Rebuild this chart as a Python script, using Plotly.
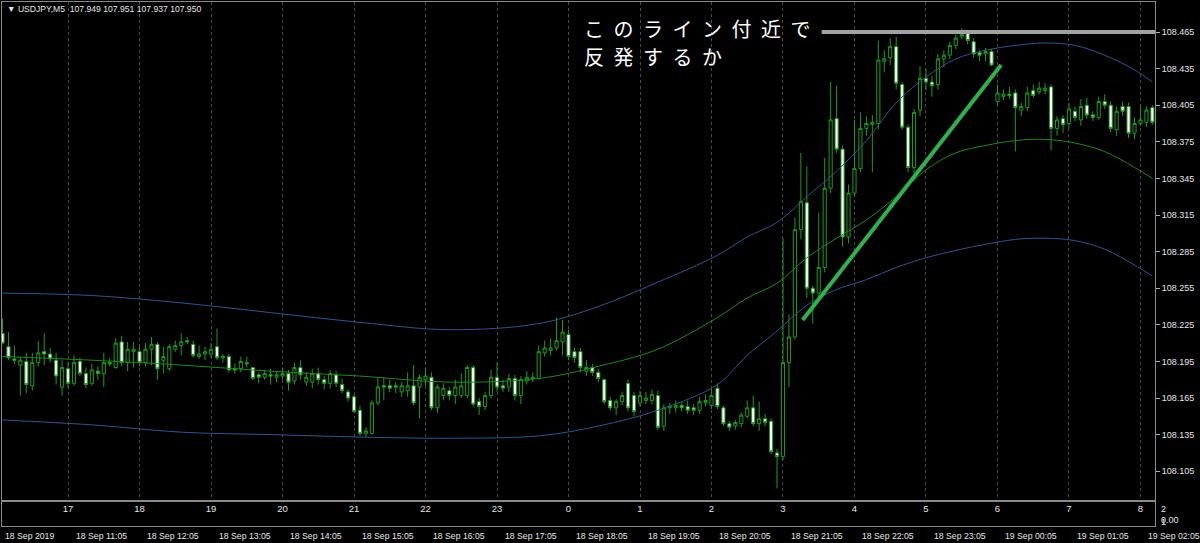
import plotly.graph_objects as go

# ---------------- data ----------------
opens = [108.218,108.207,108.197,108.192,108.195,108.175,108.194,108.203,108.201,108.196,
         108.174,108.189,108.177,108.195,108.185,108.177,108.187,108.185,108.194,108.190,
         108.211,108.194,108.203,108.203,108.194,108.205,108.209,108.196,108.189,108.205,
         108.208,108.212,108.209,108.199,108.201,108.201,108.207,108.198,108.199,108.189,
         108.189,108.194,108.190,108.184,108.182,108.184,108.182,108.183,108.185,108.179,
         108.190,108.178,108.178,108.185,108.180,108.177,108.184,108.176,108.170,108.166,
         108.155,108.136,108.136,108.161,108.175,108.175,108.175,108.170,108.171,108.175,
         108.174,108.180,108.182,108.157,108.167,108.171,108.167,108.167,108.167,108.190,
         108.162,108.158,108.167,108.182,108.175,108.174,108.181,108.167,108.179,108.181,
         108.181,108.202,108.204,108.206,108.211,108.217,108.203,108.203,108.187,108.190,
         108.186,108.180,108.163,108.157,108.162,108.177,108.167,108.161,108.163,108.163,
         108.167,108.142,108.157,108.157,108.159,108.158,108.157,108.155,108.161,108.159,
         108.173,108.157,108.144,108.142,108.144,108.150,108.157,108.144,108.148,108.146,
         108.120,108.117,108.194,108.215,108.303,108.325,108.255,108.251,108.272,108.337,
         108.394,108.369,108.297,108.333,108.353,108.386,108.389,108.390,108.441,108.444,
         108.453,108.422,108.387,108.354,108.401,108.427,108.424,108.422,108.443,108.446,
         108.454,108.461,108.464,108.457,108.448,108.447,108.449,108.408,108.412,108.414,
         108.415,108.401,108.403,108.417,108.416,108.417,108.420,108.386,108.394,108.390,
         108.400,108.393,108.405,108.397,108.395,108.408,108.405,108.385,108.404,108.404,
         108.382,108.390,108.391,108.403]
highs = [108.230,108.219,108.208,108.199,108.202,108.202,108.212,108.218,108.206,108.202,
         108.196,108.194,108.200,108.198,108.190,108.193,108.191,108.202,108.198,108.214,
         108.216,108.211,108.211,108.208,108.210,108.215,108.211,108.207,108.209,108.212,
         108.218,108.215,108.212,108.208,108.207,108.210,108.222,108.201,108.201,108.193,
         108.199,108.199,108.190,108.186,108.188,108.189,108.187,108.190,108.188,108.194,
         108.196,108.186,108.189,108.190,108.183,108.188,108.187,108.181,108.172,108.168,
         108.159,108.141,108.163,108.182,108.182,108.180,108.178,108.178,108.186,108.192,
         108.184,108.190,108.186,108.176,108.177,108.174,108.180,108.185,108.192,108.192,
         108.165,108.170,108.188,108.194,108.180,108.185,108.184,108.183,108.187,108.186,
         108.208,108.212,108.214,108.231,108.229,108.221,108.206,108.206,108.196,108.193,
         108.189,108.181,108.166,108.164,108.170,108.180,108.170,108.171,108.170,108.172,
         108.171,108.160,108.161,108.163,108.162,108.163,108.160,108.166,108.168,108.173,
         108.177,108.159,108.146,108.147,108.153,108.163,108.167,108.162,108.152,108.148,
         108.123,108.296,108.233,108.313,108.366,108.355,108.257,108.317,108.362,108.424,
         108.421,108.372,108.340,108.393,108.399,108.396,108.397,108.458,108.450,108.460,
         108.461,108.424,108.389,108.402,108.437,108.435,108.429,108.447,108.450,108.457,
         108.463,108.468,108.467,108.460,108.450,108.452,108.451,108.422,108.418,108.420,
         108.418,108.407,108.420,108.422,108.424,108.423,108.422,108.396,108.397,108.407,
         108.404,108.410,108.411,108.400,108.412,108.414,108.408,108.404,108.408,108.407,
         108.395,108.405,108.404,108.405]
lows = [108.209,108.196,108.193,108.167,108.169,108.171,108.191,108.192,108.194,108.176,
        108.167,108.173,108.175,108.183,108.173,108.175,108.180,108.174,108.191,108.189,
        108.191,108.187,108.190,108.191,108.191,108.192,108.180,108.185,108.187,108.203,
        108.200,108.209,108.198,108.197,108.196,108.198,108.196,108.194,108.186,108.185,
        108.186,108.190,108.180,108.177,108.180,108.176,108.178,108.180,108.171,108.176,
        108.180,108.175,108.173,108.176,108.172,108.173,108.174,108.169,108.162,108.153,
        108.134,108.133,108.135,108.159,108.163,108.170,108.169,108.166,108.166,108.159,
        108.148,108.175,108.155,108.153,108.163,108.163,108.160,108.165,108.165,108.158,
        108.151,108.155,108.165,108.170,108.170,108.170,108.163,108.160,108.176,108.178,
        108.180,108.199,108.200,108.204,108.200,108.196,108.194,108.186,108.183,108.183,
        108.178,108.160,108.155,108.151,108.159,108.154,108.150,108.158,108.160,108.160,
        108.139,108.138,108.152,108.153,108.154,108.152,108.151,108.152,108.158,108.156,
        108.156,108.142,108.138,108.139,108.141,108.148,108.142,108.138,108.142,108.119,
        108.091,108.114,108.174,108.213,108.295,108.247,108.226,108.247,108.268,108.333,
        108.366,108.289,108.292,108.330,108.350,108.380,108.350,108.385,108.432,108.438,
        108.418,108.385,108.350,108.349,108.396,108.417,108.412,108.418,108.436,108.443,
        108.451,108.459,108.455,108.444,108.441,108.441,108.437,108.405,108.409,108.410,
        108.367,108.396,108.400,108.411,108.414,108.414,108.368,108.380,108.382,108.386,
        108.392,108.388,108.394,108.392,108.393,108.402,108.383,108.380,108.396,108.378,
        108.377,108.388,108.387,108.389]
closes = [108.210,108.198,108.196,108.196,108.176,108.194,108.202,108.201,108.197,108.183,
          108.190,108.177,108.194,108.185,108.176,108.188,108.185,108.194,108.193,108.210,
          108.194,108.205,108.205,108.194,108.205,108.209,108.189,108.199,108.207,108.208,
          108.211,108.211,108.200,108.201,108.203,108.205,108.198,108.199,108.188,108.188,
          108.195,108.193,108.181,108.182,108.185,108.183,108.184,108.185,108.178,108.190,
          108.184,108.182,108.185,108.180,108.177,108.185,108.177,108.171,108.165,108.154,
          108.136,108.138,108.161,108.174,108.174,108.173,108.174,108.175,108.175,108.161,
          108.182,108.183,108.157,108.174,108.173,108.167,108.174,108.175,108.190,108.160,
          108.158,108.167,108.182,108.174,108.173,108.181,108.167,108.180,108.182,108.182,
          108.203,108.206,108.206,108.212,108.219,108.199,108.198,108.190,108.190,108.186,
          108.181,108.162,108.157,108.162,108.167,108.157,108.154,108.167,108.165,108.168,
          108.141,108.157,108.158,108.159,108.157,108.155,108.155,108.162,108.163,108.167,
          108.158,108.144,108.141,108.145,108.151,108.157,108.144,108.148,108.145,108.121,
          108.117,108.194,108.215,108.303,108.326,108.255,108.251,108.272,108.337,108.393,
          108.369,108.297,108.333,108.353,108.386,108.390,108.391,108.442,108.443,108.453,
          108.423,108.387,108.354,108.399,108.427,108.424,108.421,108.443,108.446,108.454,
          108.460,108.463,108.458,108.447,108.446,108.449,108.438,108.415,108.414,108.413,
          108.403,108.404,108.415,108.413,108.419,108.419,108.386,108.393,108.389,108.402,
          108.395,108.404,108.397,108.395,108.408,108.405,108.386,108.400,108.400,108.382,
          108.390,108.393,108.401,108.391]

bars = list(range(len(opens)))

# envelope bands read at sample bars
band_bars = [0, 15, 30, 45, 60, 75, 90, 100, 110, 120, 125, 130, 135, 140, 145,
             150, 155, 160, 165, 170, 175, 180, 185, 190, 193]
band_upper = [108.251,108.249,108.243,108.235,108.227,108.221,108.226,108.240,108.260,108.282,
              108.297,108.309,108.330,108.351,108.376,108.407,108.428,108.443,108.450,108.454,
              108.456,108.454,108.446,108.434,108.424]
band_mid = [108.199,108.196,108.192,108.187,108.183,108.178,108.181,108.191,108.205,108.231,
            108.247,108.259,108.280,108.296,108.311,108.330,108.352,108.366,108.372,108.376,
            108.377,108.374,108.367,108.354,108.345]
band_lower = [108.147,108.143,108.137,108.135,108.133,108.132,108.134,108.142,108.155,108.176,
              108.200,108.220,108.241,108.254,108.262,108.272,108.280,108.286,108.291,108.295,
              108.296,108.294,108.287,108.274,108.265]

# hand-drawn objects
trend_x = [134.3, 167.6]
trend_y = [108.229, 108.438]
level_x = [137.5, 193.6]
level_y = [108.465, 108.465]

# price axis labels
price_ticks = [108.465, 108.435, 108.405, 108.375, 108.345, 108.315, 108.285,
               108.255, 108.225, 108.195, 108.165, 108.135, 108.105]
price_labels = [f"{v:.3f}" for v in price_ticks]

# hour grid / indicator labels
hour_bars = [11, 23, 35, 47, 59, 71, 83, 95, 107, 119, 131, 143, 155, 167, 179, 191]
hour_labels = ["17", "18", "19", "20", "21", "22", "23", "0", "1", "2", "3", "4", "5", "6", "7", "8"]

# time axis labels
time_bars = [0, 12, 24, 36, 48, 60, 72, 84, 96, 108, 120, 132, 144, 156, 168, 180, 192]
time_labels = ["18 Sep 2019", "18 Sep 11:05", "18 Sep 12:05", "18 Sep 13:05", "18 Sep 14:05",
               "18 Sep 15:05", "18 Sep 16:05", "18 Sep 17:05", "18 Sep 18:05", "18 Sep 19:05",
               "18 Sep 20:05", "18 Sep 21:05", "18 Sep 22:05", "18 Sep 23:05", "19 Sep 00:05",
               "19 Sep 01:05", "19 Sep 02:05"]

header_text = "▼ USDJPY,M5  107.949 107.951 107.937 107.950"
note_lines = ["このライン付近で", "反発するか"]

# ---------------- figure ----------------
W, H = 1200, 543
GREEN = "#1f9a1f"
BLUE = "#2a5694"
MIDGREEN = "#1d8a1d"
FRAME = "#8a8a8a"
TXT = "#e6e6e6"

def py(px):
    return 1 - px / H

fig = go.Figure()

for ys, col in [(band_upper, BLUE), (band_lower, BLUE), (band_mid, MIDGREEN)]:
    fig.add_trace(go.Scatter(x=band_bars, y=ys, mode="lines",
                             line=dict(color=col, width=1, shape="spline", smoothing=1.0),
                             hoverinfo="skip", showlegend=False))

fig.add_trace(go.Candlestick(
    x=bars, open=opens, high=highs, low=lows, close=closes,
    increasing=dict(line=dict(color=GREEN, width=1), fillcolor="#000000"),
    decreasing=dict(line=dict(color=GREEN, width=1), fillcolor="#ffffff"),
    whiskerwidth=0, showlegend=False, hoverinfo="skip"))

fig.add_trace(go.Scatter(x=level_x, y=level_y, mode="lines",
                         line=dict(color="#a2a2a2", width=4), showlegend=False, hoverinfo="skip"))
fig.add_trace(go.Scatter(x=trend_x, y=trend_y, mode="lines",
                         line=dict(color="#2fb24c", width=4), showlegend=False, hoverinfo="skip"))

fig.add_trace(go.Scatter(x=hour_bars, y=[0.7] * len(hour_bars), mode="text", text=hour_labels,
                         textfont=dict(size=9.5, color=TXT, family="Liberation Sans"),
                         xaxis="x2", yaxis="y2", showlegend=False, hoverinfo="skip"))

xdom = [2 / W, 1155 / W]
fig.update_layout(
    width=W, height=H, margin=dict(l=0, r=0, t=0, b=0),
    paper_bgcolor="#000000", plot_bgcolor="#000000",
    font=dict(family="Liberation Sans", size=9, color=TXT),
    showlegend=False, boxgap=0.25,
    xaxis=dict(domain=xdom, range=[-0.084, 193.44], anchor="y",
               tickmode="array", tickvals=hour_bars, showticklabels=False, ticks="",
               showgrid=True, gridcolor="#4a4a4a", griddash="dot", gridwidth=1,
               zeroline=False, showline=True, mirror=True, linecolor=FRAME, linewidth=1,
               rangeslider=dict(visible=False), fixedrange=True),
    yaxis=dict(domain=[py(500), py(2)], range=[108.0814, 108.4896], side="right",
               tickmode="array", tickvals=price_ticks, ticktext=price_labels,
               ticks="outside", ticklen=4, tickcolor="#b0b0b0",
               tickfont=dict(size=9, color=TXT), showgrid=False, zeroline=False,
               showline=True, mirror=True, linecolor=FRAME, linewidth=1, automargin=False),
    xaxis2=dict(domain=xdom, range=[-0.084, 193.44], anchor="y2", matches="x",
                showticklabels=False, showgrid=False, zeroline=False, ticks="",
                showline=True, mirror=True, linecolor=FRAME, linewidth=1),
    yaxis2=dict(domain=[py(526), py(502)], range=[0, 1], anchor="x2", side="right",
                showticklabels=False, showgrid=False, zeroline=False, ticks="",
                showline=True, mirror=True, linecolor=FRAME, linewidth=1),
)

ann = []
ann.append(dict(text=header_text, xref="paper", yref="paper", x=5 / W, y=py(9),
                xanchor="left", yanchor="middle", showarrow=False,
                font=dict(size=8.6, color=TXT, family="Liberation Sans")))
for i, line in enumerate(note_lines):
    ann.append(dict(text=f'<span style="letter-spacing:9.5px">{line}</span>',
                    xref="paper", yref="paper", x=582 / W, y=py(29 + i * 28),
                    xanchor="left", yanchor="middle", showarrow=False,
                    font=dict(size=20, color="#ffffff", family="Noto Sans CJK JP")))
for b, t in zip(time_bars, time_labels):
    ann.append(dict(text=t, xref="x", yref="paper", x=b, y=py(536),
                    xanchor="left", yanchor="middle", showarrow=False,
                    font=dict(size=8.7, color=TXT, family="Liberation Sans")))
for t, ypx in [("2", 509), ("0.00", 520), ("1", 522)]:
    ann.append(dict(text=t, xref="paper", yref="paper", x=1159 / W, y=py(ypx),
                    xanchor="left", yanchor="middle", showarrow=False,
                    font=dict(size=9, color=TXT, family="Liberation Sans")))
fig.update_layout(annotations=ann)

fig.write_html("out.html", config={"displayModeBar": False},
               post_script="document.body.style.margin='0';document.body.style.overflow='hidden';")
